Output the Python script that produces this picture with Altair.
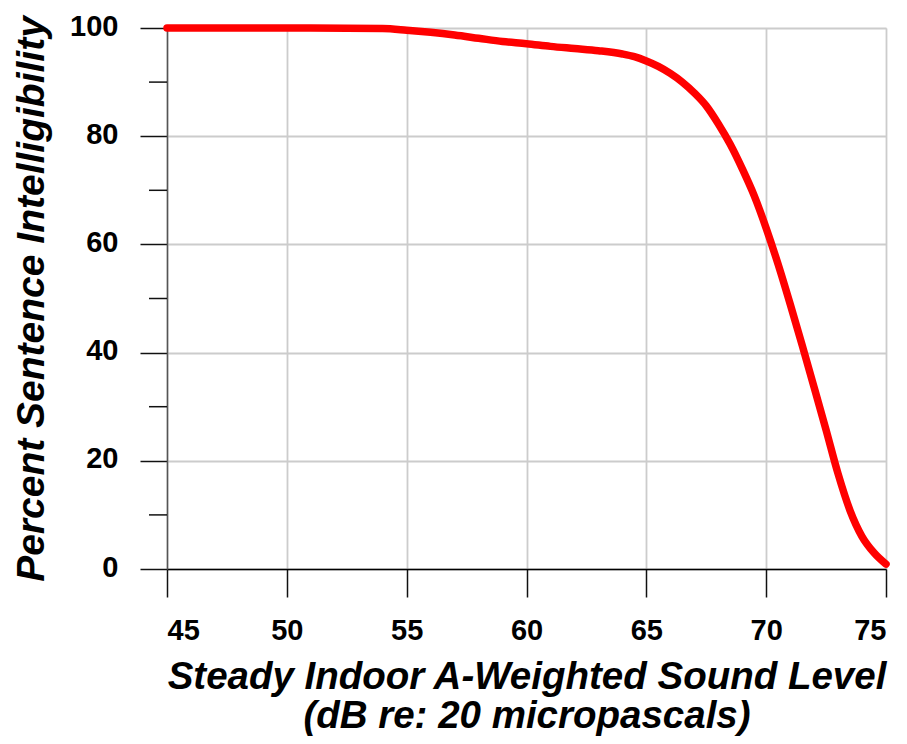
import altair as alt
import pandas as pd

# Curve
level_db = [45, 50, 54, 55, 56, 57, 58, 59, 60, 61, 62, 63, 64, 64.5, 65, 65.5,
            66, 66.5, 67, 67.5, 68, 68.5, 69, 69.5, 70, 70.5, 71, 71.5, 72,
            72.5, 73, 73.5, 74, 74.5, 75]
intelligibility = [100, 100, 99.9, 99.6, 99.2, 98.7, 98.1, 97.5, 97.1, 96.6,
                   96.2, 95.8, 95.2, 94.7, 93.9, 92.9, 91.6, 90.0, 88.0, 85.6,
                   82.3, 78.5, 74.0, 69.0, 63.0, 56.3, 49.0, 41.4, 33.6, 25.7,
                   17.6, 10.8, 6.0, 3.0, 0.9]

x_ticks = [45, 50, 55, 60, 65, 70, 75]
y_ticks = [0, 20, 40, 60, 80, 100]
y_minor = [10, 30, 50, 70, 90]

x_title = ["Steady Indoor A-Weighted Sound Level", "(dB re: 20 micropascals)"]
y_title = "Percent Sentence Intelligibility"

df = pd.DataFrame({"level": level_db, "pct": intelligibility})
minor_df = pd.DataFrame({"pct": y_minor})

FONT = "Liberation Sans"

x_scale = alt.Scale(domain=[45, 75], nice=False, zero=False)
y_scale = alt.Scale(domain=[0, 100], nice=False)

line = alt.Chart(df).mark_line(
    color="#ff0000", strokeWidth=7.5, strokeCap="round", strokeJoin="round",
    interpolate="monotone", clip=False
).encode(
    x=alt.X("level:Q", scale=x_scale,
            axis=alt.Axis(values=x_ticks, title=x_title, format="d",
                          tickSize=28, tickColor="#111", tickWidth=1.5,
                          domainColor="#000", domainWidth=1.5,
                          grid=True, gridColor="#cccccc", gridWidth=1.8,
                          labelFont=FONT, labelFontSize=29, labelFontWeight="bold",
                          labelColor="#000", labelPadding=19,
                          titleFont=FONT, titleFontSize=38.5, titleFontWeight="bold",
                          titleFontStyle="italic", titleColor="#000",
                          titleY=119, titleBaseline="alphabetic",
                          titleLineHeight=39)),
    y=alt.Y("pct:Q", scale=y_scale,
            axis=alt.Axis(values=y_ticks, title=y_title, format="d",
                          tickSize=27, tickColor="#111", tickWidth=1.5,
                          domainColor="#555", domainWidth=1.5,
                          grid=True, gridColor="#cccccc", gridWidth=1.8,
                          labelFont=FONT, labelFontSize=29, labelFontWeight="bold",
                          labelColor="#000", labelPadding=22, labelOffset=-2,
                          titleFont=FONT, titleFontSize=39, titleFontWeight="bold",
                          titleFontStyle="italic", titleColor="#000",
                          titleX=-124, titleBaseline="alphabetic")),
)

minor = alt.Chart(minor_df).mark_rule(color="#111", strokeWidth=1.5, clip=False).encode(
    y=alt.Y("pct:Q", scale=y_scale),
    x=alt.value(-18),
    x2=alt.value(0),
)

chart = alt.layer(minor, line).properties(
    width=719, height=541,
    autosize=alt.AutoSizeParams(type="none"),
    padding={"left": 159, "top": 20, "right": 13, "bottom": 167},
).configure_view(
    stroke="#444", strokeWidth=1.5
).configure(background="white")

chart.save("out.html", embed_options={"renderer": "svg", "actions": False})
